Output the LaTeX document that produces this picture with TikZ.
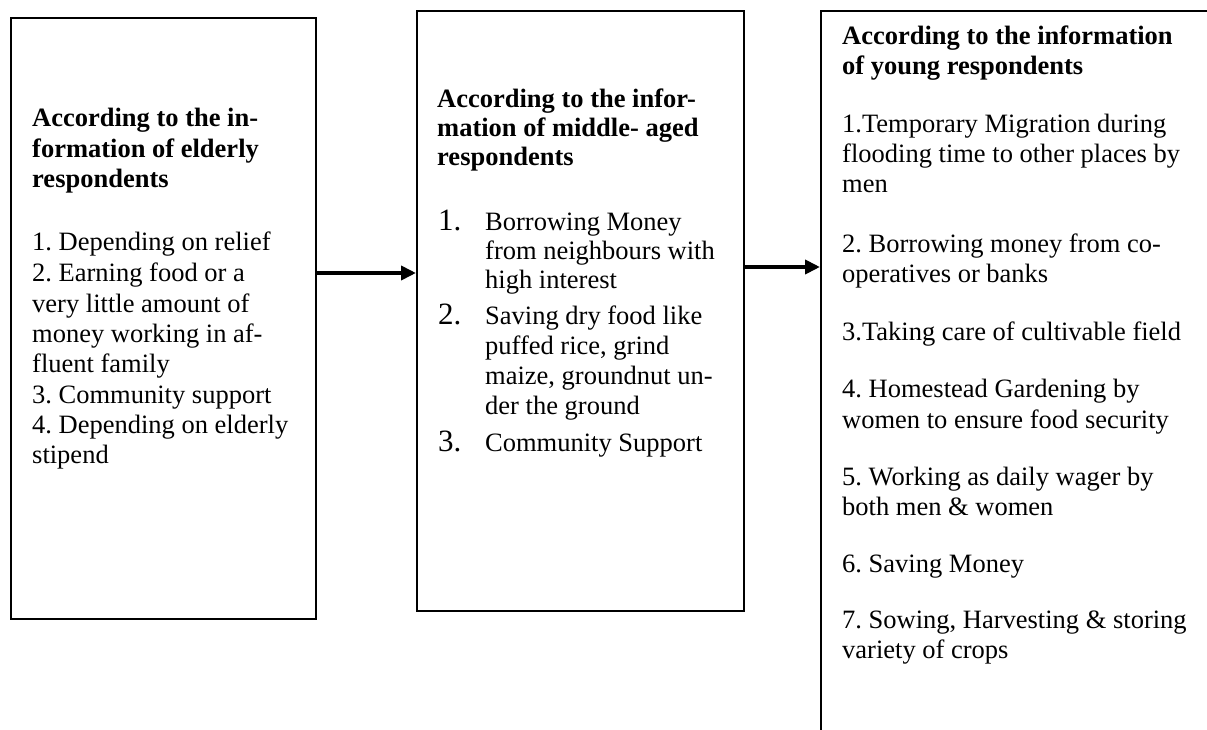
\documentclass[tikz,border=0pt]{standalone}
\usepackage{fontspec}
\setmainfont{Liberation Serif}
\usetikzlibrary{arrows.meta}
\frenchspacing
\tikzset{
  boxframe/.style={draw=black, line width=2pt, inner sep=0pt, anchor=north west},
  ttl/.style={anchor=base west, inner sep=0pt, font=\frenchspacing\bfseries\fontsize{26.5}{30}\selectfont},
  txt/.style={anchor=base west, inner sep=0pt, font=\frenchspacing\fontsize{26.5}{30}\selectfont},
  numtxt/.style={anchor=base west, inner sep=0pt, font=\fontsize{31}{34}\selectfont},
  arr/.style={line width=4pt, -{Triangle[length=15pt,width=14pt]}}
}
\begin{document}
\begin{tikzpicture}[x=1pt,y=-1pt]
\useasboundingbox (0,0) rectangle (1207,730);
\clip (0,0) rectangle (1207,730);
\fill[white] (0,0) rectangle (1207,730);
% boxes
\node[boxframe, minimum width=305pt, minimum height=601pt] (box1) at (10,17) {};
\node[boxframe, minimum width=327pt, minimum height=600pt] (box2) at (416,10) {};
\node[boxframe, minimum width=420pt, minimum height=780pt] (box3) at (820,10) {};
% arrows
\coordinate (ya) at (0,273);
\coordinate (yb) at (0,267);
\draw[arr] (box1.east |- ya) -- (box2.west |- ya);
\draw[arr] (box2.east |- yb) -- (box3.west |- yb);
% box 1 text
\node[ttl] (a1) at (32,127) {According to the in-};
\node[ttl] (a2) at (32,158) {formation of elderly};
\node[ttl] (a3) at (32,188) {respondents};
\node[txt] (a4) at (32,250) {1. Depending on relief};
\node[txt] (a5) at (32,281) {2. Earning food or a};
\node[txt] (a6) at (32,312) {very little amount of};
\node[txt] (a7) at (32,342) {money working in af-};
\node[txt] (a8) at (32,372) {fluent family};
\node[txt] (a9) at (32,403) {3. Community support};
\node[txt] (a10) at (32,433) {4. Depending on elderly};
\node[txt] (a11) at (32,463) {stipend};
% box 2 text
\node[ttl] (b1) at (437,108) {According to the infor-};
\node[ttl] (b2) at (437,137) {mation of middle- aged};
\node[ttl] (b3) at (437,166) {respondents};
\node[numtxt] (n1) at (438,230) {1.};
\node[txt] (b4) at (485,230) {Borrowing Money};
\node[txt] (b5) at (485,259) {from neighbours with};
\node[txt] (b6) at (485,288) {high interest};
\node[numtxt] (n2) at (438,324) {2.};
\node[txt] (b7) at (485,324) {Saving dry food like};
\node[txt] (b8) at (485,354) {puffed rice, grind};
\node[txt] (b9) at (485,384) {maize, groundnut un-};
\node[txt] (b10) at (485,414) {der the ground};
\node[numtxt] (n3) at (438,451) {3.};
\node[txt] (b11) at (485,451) {Community Support};
% box 3 text
\node[ttl] (c1) at (842,45) {According to the information};
\node[ttl] (c2) at (842,75) {of young respondents};
\node[txt] (c3) at (842,133) {1.Temporary Migration during};
\node[txt] (c4) at (842,163) {flooding time to other places by};
\node[txt] (c5) at (842,193) {men};
\node[txt] (c6) at (842,252) {2. Borrowing money from co-};
\node[txt] (c7) at (842,282) {operatives or banks};
\node[txt] (c8) at (842,340) {3.Taking care of cultivable field};
\node[txt] (c9) at (842,397) {4. Homestead Gardening by};
\node[txt] (c10) at (842,428) {women to ensure food security};
\node[txt] (c11) at (842,485) {5. Working as daily wager by};
\node[txt] (c12) at (842,515) {both men \& women};
\node[txt] (c13) at (842,572) {6. Saving Money};
\node[txt] (c14) at (842,628) {7. Sowing, Harvesting \& storing};
\node[txt] (c15) at (842,658) {variety of crops};
\end{tikzpicture}
\end{document}
